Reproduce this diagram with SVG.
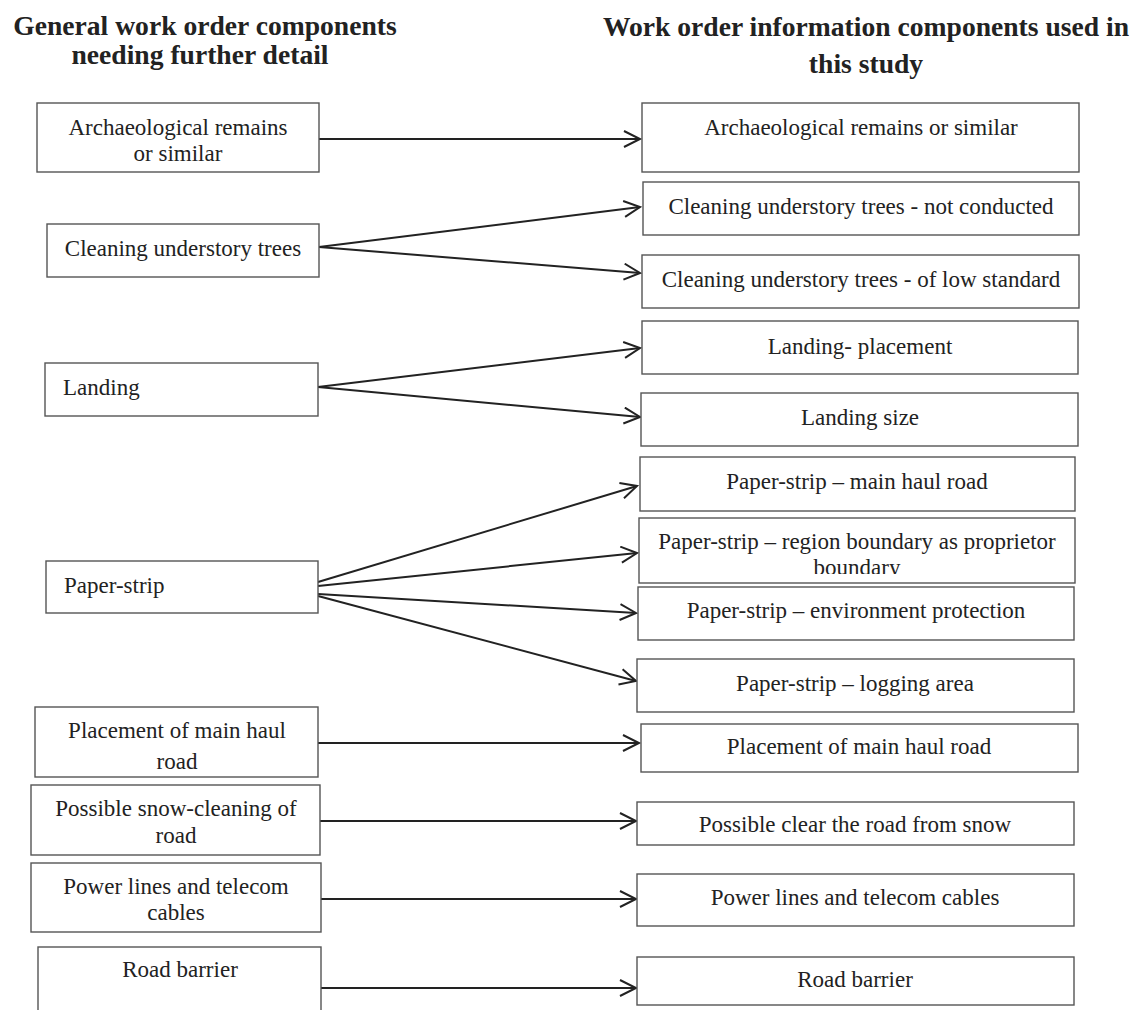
<svg xmlns="http://www.w3.org/2000/svg" width="1142" height="1010" viewBox="0 0 1142 1010">
<style>
.box{fill:#fff;stroke:#555;stroke-width:1.4}
.t{font-family:"Liberation Serif","Times New Roman",serif;font-size:23px;fill:#222;text-anchor:middle}
.l{text-anchor:start}
.h{font-family:"Liberation Serif","Times New Roman",serif;font-size:27.6px;font-weight:bold;fill:#222;text-anchor:middle}
.c{fill:none;stroke:#222;stroke-width:2}
</style>
<defs>
<marker id="ah" markerWidth="20" markerHeight="20" refX="17" refY="9" orient="auto" markerUnits="userSpaceOnUse">
<path d="M1,1 L17,9 L1,17" fill="none" stroke="#222" stroke-width="2"/>
</marker>
<clipPath id="clipB"><rect x="639" y="518" width="436" height="56"/></clipPath>
</defs>
<rect width="1142" height="1010" fill="#fff"/>
<g id="headers">
<text class="h" x="205" y="35">General work order components</text>
<text class="h" x="200" y="64">needing further detail</text>
<text class="h" x="866" y="36">Work order information components used in</text>
<text class="h" x="866" y="73">this study</text>
</g>
<g id="connectors">
<line class="c" x1="319" y1="139" x2="640" y2="139" marker-end="url(#ah)"/>
<line class="c" x1="319" y1="247" x2="640" y2="207" marker-end="url(#ah)"/>
<line class="c" x1="319" y1="247" x2="640" y2="273" marker-end="url(#ah)"/>
<line class="c" x1="318" y1="387" x2="640" y2="348" marker-end="url(#ah)"/>
<line class="c" x1="318" y1="387" x2="640" y2="417" marker-end="url(#ah)"/>
<line class="c" x1="318" y1="582" x2="637" y2="486" marker-end="url(#ah)"/>
<line class="c" x1="318" y1="586" x2="637" y2="553" marker-end="url(#ah)"/>
<line class="c" x1="318" y1="594" x2="636" y2="613" marker-end="url(#ah)"/>
<line class="c" x1="318" y1="596" x2="636" y2="681" marker-end="url(#ah)"/>
<line class="c" x1="318" y1="743" x2="639" y2="743" marker-end="url(#ah)"/>
<line class="c" x1="320" y1="821" x2="636" y2="821" marker-end="url(#ah)"/>
<line class="c" x1="321" y1="899" x2="636" y2="899" marker-end="url(#ah)"/>
<line class="c" x1="321" y1="988" x2="636" y2="988" marker-end="url(#ah)"/>
</g>
<g id="L1"><rect class="box" x="37" y="103" width="282" height="69"/><text class="t" x="178" y="135">Archaeological remains</text><text class="t" x="178" y="161">or similar</text></g>
<g id="L2"><rect class="box" x="47" y="224" width="272" height="53"/><text class="t" x="183" y="256">Cleaning understory trees</text></g>
<g id="L3"><rect class="box" x="45" y="363" width="273" height="53"/><text class="t l" x="63" y="395">Landing</text></g>
<g id="L4"><rect class="box" x="46" y="561" width="272" height="52"/><text class="t l" x="64" y="593">Paper-strip</text></g>
<g id="L5"><rect class="box" x="35" y="707" width="283" height="70"/><text class="t" x="177" y="738">Placement of main haul</text><text class="t" x="177" y="769">road</text></g>
<g id="L6"><rect class="box" x="31" y="785" width="289" height="70"/><text class="t" x="176" y="816">Possible snow-cleaning of</text><text class="t" x="176" y="843">road</text></g>
<g id="L7"><rect class="box" x="31" y="863" width="290" height="69"/><text class="t" x="176" y="894">Power lines and telecom</text><text class="t" x="176" y="920">cables</text></g>
<g id="L8"><rect class="box" x="38" y="947" width="283" height="70"/><text class="t" x="180" y="977">Road barrier</text></g>
<g id="R1"><rect class="box" x="642" y="103" width="437" height="69"/><text class="t" x="861" y="135">Archaeological remains or similar</text></g>
<g id="R2"><rect class="box" x="643" y="182" width="436" height="53"/><text class="t" x="861" y="214">Cleaning understory trees - not conducted</text></g>
<g id="R3"><rect class="box" x="642" y="255" width="437" height="53"/><text class="t" x="861" y="287">Cleaning understory trees - of low standard</text></g>
<g id="R4"><rect class="box" x="642" y="321" width="436" height="53"/><text class="t" x="860" y="354">Landing- placement</text></g>
<g id="R5"><rect class="box" x="641" y="393" width="437" height="53"/><text class="t" x="860" y="425">Landing size</text></g>
<g id="R6"><rect class="box" x="640" y="457" width="435" height="54"/><text class="t" x="857" y="489">Paper-strip – main haul road</text></g>
<g id="R7"><rect class="box" x="639" y="518" width="436" height="65"/><g clip-path="url(#clipB)"><text class="t" x="857" y="549">Paper-strip – region boundary as proprietor</text><text class="t" x="857" y="575">boundary</text></g></g>
<g id="R8"><rect class="box" x="638" y="587" width="436" height="53"/><text class="t" x="856" y="618">Paper-strip – environment protection</text></g>
<g id="R9"><rect class="box" x="637" y="659" width="437" height="53"/><text class="t" x="855" y="691">Paper-strip – logging area</text></g>
<g id="R10"><rect class="box" x="641" y="724" width="437" height="48"/><text class="t" x="859" y="754">Placement of main haul road</text></g>
<g id="R11"><rect class="box" x="637" y="802" width="437" height="43"/><text class="t" x="855" y="832">Possible clear the road from snow</text></g>
<g id="R12"><rect class="box" x="637" y="874" width="437" height="52"/><text class="t" x="855" y="905">Power lines and telecom cables</text></g>
<g id="R13"><rect class="box" x="637" y="957" width="437" height="48"/><text class="t" x="855" y="987">Road barrier</text></g>
</svg>
